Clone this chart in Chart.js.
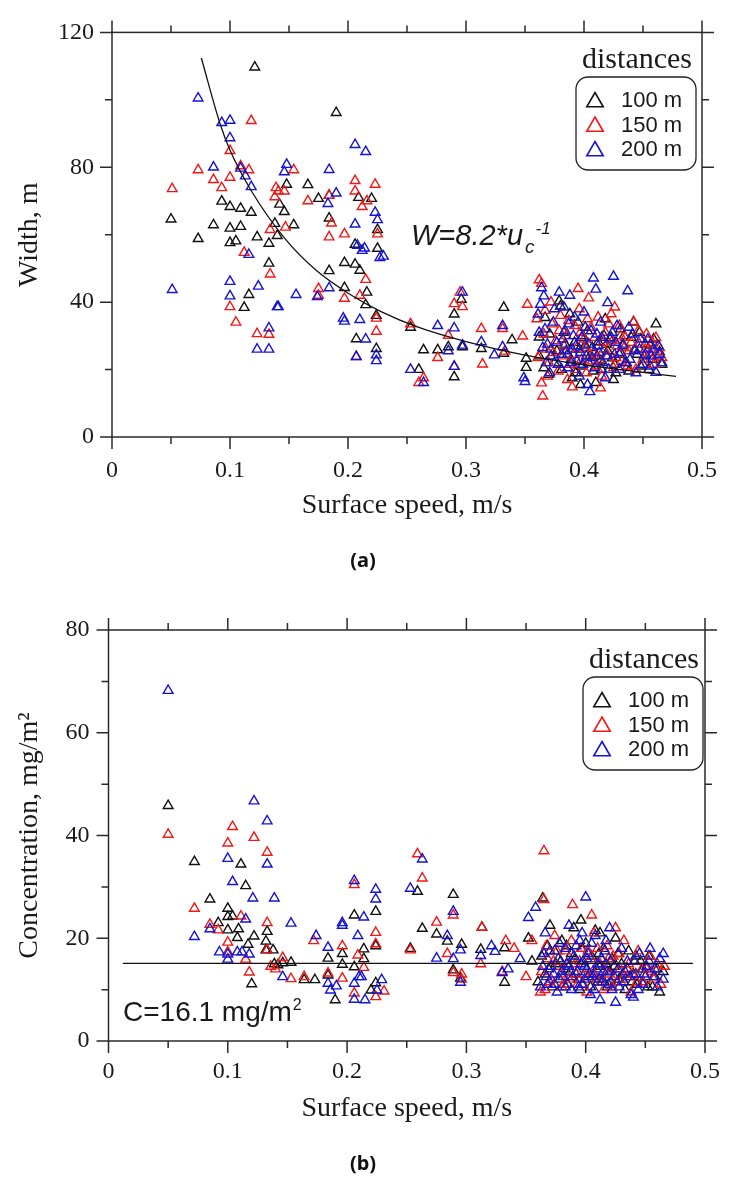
<!DOCTYPE html>
<html lang="en">
<head>
<meta charset="UTF-8" />
<title>Width and concentration vs surface speed</title>
<script src="https://cdn.jsdelivr.net/npm/chart.js"></script>
<style>
    * { margin: 0; padding: 0; box-sizing: border-box; }
    body { background: #fff; width: 736px; height: 1178px; position: relative; overflow: hidden; }
    canvas { position: absolute; left: 0; }
    #chartA { top: 0; }
    #chartB { top: 590px; }
    .panel {
        position: absolute; left: 313px; width: 100px; text-align: center;
        font: bold 20px 'Noto Sans', 'Liberation Sans', sans-serif; color: #111;
    }
</style>
</head>
<body>

<canvas id="chartA" width="736" height="590"></canvas>
<canvas id="chartB" width="736" height="588"></canvas>
<div class="panel" style="top:546px">(a)</div>
<div class="panel" style="top:1149px">(b)</div>

<script>
// ---- data -------------------------------------------------------------
const distances = ['100 m', '150 m', '200 m'];
const xTickLabels = ['0', '0.1', '0.2', '0.3', '0.4', '0.5'];
const xTickValues = [0, 0.1, 0.2, 0.3, 0.4, 0.5];
const yTicksA = [0, 40, 80, 120];
const yTicksB = [0, 20, 40, 60, 80];

// (a) width, m  vs surface speed, m/s
const widthD100 = [
    [0.050,64.6],[0.073,58.8],[0.086,62.9],[0.093,69.9],[0.100,68.3],[0.109,67.8],[0.118,66.6],[0.100,61.9],
    [0.109,62.4],[0.100,57.6],[0.105,58.1],[0.123,59.3],[0.133,57.4],[0.138,63.3],[0.140,59.7],[0.142,69.0],
    [0.146,66.8],[0.148,74.9],[0.154,62.9],[0.166,74.8],[0.175,70.7],[0.184,71.6],[0.184,64.9],[0.209,71.0],
    [0.220,70.7],[0.206,57.1],[0.225,55.9],[0.225,61.5],[0.133,51.5],[0.184,49.3],[0.197,51.7],[0.206,51.2],
    [0.210,49.4],[0.197,44.3],[0.216,42.9],[0.116,42.2],[0.112,38.4],[0.215,39.2],[0.224,36.0],[0.121,109.7],
    [0.190,96.2],
    [0.207,29.1],[0.224,26.2],[0.253,32.5],[0.264,25.8],[0.276,25.8],[0.285,26.7],[0.260,20.0],[0.290,36.4],
    [0.296,40.8],[0.297,26.7],[0.290,17.8],[0.332,38.4],[0.313,26.2],[0.332,24.8],
    [0.339,28.8],[0.351,23.3],[0.351,20.6],[0.362,29.6],[0.367,35.4],[0.379,40.3],[0.380,38.8],[0.372,26.0],
    [0.375,22.0],[0.383,31.0],[0.386,24.5],[0.390,17.5],[0.392,28.0],[0.395,34.0],[0.398,21.0],[0.401,27.2],
    [0.403,31.5],[0.405,24.0],[0.408,19.5],[0.410,16.1],[0.412,28.2],[0.414,22.5],[0.417,30.0],[0.420,25.5],
    [0.424,23.4],[0.427,19.0],[0.431,32.0],[0.433,27.0],[0.436,22.0],[0.440,29.5],[0.442,34.0],[0.445,24.5],
    [0.448,21.0],[0.452,27.5],[0.456,27.2],[0.458,23.0],[0.461,33.5],[0.464,25.2],[0.466,21.5],[0.370,18.5],
    [0.388,36.5],[0.418,35.0],[0.397,15.5],[0.425,17.0],
    [0.362,24.0],[0.366,20.5],[0.371,30.5],[0.377,25.5],[0.381,20.0],[0.384,27.5],[0.389,23.0],[0.393,19.0],
    [0.396,26.0],[0.399,30.0],[0.404,22.0],[0.407,26.5],[0.411,24.0],[0.415,20.0],[0.419,27.5],[0.423,29.5],
    [0.426,21.5],[0.430,24.5],[0.434,30.0],[0.438,19.5],[0.443,26.0],[0.447,31.0],[0.451,24.0],[0.455,20.0],
    [0.459,29.0]
];
const widthD150 = [
    [0.051,73.6],[0.073,79.2],[0.086,76.3],[0.093,73.9],[0.100,77.0],[0.100,84.9],[0.118,93.8],[0.109,80.4],
    [0.116,79.2],[0.139,73.9],[0.141,72.9],[0.146,72.9],[0.138,71.2],[0.154,79.2],[0.166,70.0],[0.184,71.6],
    [0.206,76.0],[0.206,72.9],[0.223,74.9],[0.212,68.3],[0.216,70.0],[0.186,63.4],[0.184,59.3],[0.197,60.2],
    [0.134,61.5],[0.147,62.2],[0.225,60.2],[0.112,54.7],[0.134,48.3],[0.215,46.7],[0.197,41.1],[0.210,42.0],
    [0.100,38.6],[0.105,34.0],[0.123,30.6],[0.133,30.4],
    [0.175,44.0],[0.175,42.0],[0.224,35.2],[0.224,31.3],[0.207,23.8],[0.253,33.5],[0.264,17.5],[0.260,16.1],
    [0.276,23.5],[0.285,30.1],[0.290,39.5],[0.295,42.9],[0.297,38.6],[0.290,20.9],[0.313,32.1],[0.314,21.6],
    [0.331,32.1],[0.333,25.4],
    [0.348,29.9],[0.352,39.3],[0.362,46.6],[0.364,45.5],[0.364,16.0],[0.365,12.1],[0.360,35.0],[0.366,30.5],
    [0.368,26.0],[0.370,22.0],[0.373,33.5],[0.376,28.5],[0.378,19.5],[0.380,36.0],[0.382,24.0],[0.385,30.0],
    [0.388,21.5],[0.390,14.8],[0.392,33.0],[0.394,26.5],[0.396,38.0],[0.398,23.0],[0.400,29.0],[0.402,19.0],
    [0.404,41.2],[0.406,32.5],[0.408,25.0],[0.410,21.0],[0.412,35.5],[0.415,18.0],[0.416,28.0],[0.418,31.0],
    [0.420,24.0],[0.423,36.5],[0.425,20.5],[0.428,27.0],[0.430,33.0],[0.432,22.5],[0.435,29.5],[0.438,25.5],
    [0.442,34.2],[0.444,20.0],[0.447,27.5],[0.450,23.0],[0.453,30.5],[0.456,25.0],[0.459,21.5],[0.461,29.4],
    [0.464,26.5],[0.466,23.5],[0.386,17.0],[0.414,14.5],[0.395,44.0],[0.372,40.0],[0.426,38.5],
    [0.361,23.5],[0.367,37.5],[0.369,18.0],[0.374,25.0],[0.379,31.5],[0.383,27.0],[0.387,34.5],[0.391,24.5],
    [0.393,20.0],[0.397,31.0],[0.401,26.5],[0.403,35.0],[0.407,22.5],[0.409,29.5],[0.413,23.0],[0.417,26.0],
    [0.421,33.5],[0.424,28.5],[0.427,23.5],[0.431,30.0],[0.434,26.5],[0.437,21.0],[0.440,28.0],[0.446,31.5],
    [0.452,26.0],[0.458,28.0],[0.462,24.0]
];
const widthD200 = [
    [0.073,100.5],[0.093,93.2],[0.100,93.9],[0.100,88.7],[0.086,80.0],[0.109,79.7],[0.113,77.4],[0.118,74.2],
    [0.148,80.8],[0.146,78.6],[0.184,79.3],[0.206,86.7],[0.215,84.6],[0.190,72.3],[0.183,69.2],[0.223,66.6],
    [0.206,63.1],[0.212,55.3],[0.214,56.0],[0.227,53.2],[0.225,64.4],[0.116,54.1],[0.051,43.7],[0.100,46.1],
    [0.100,41.8],[0.124,44.7],[0.141,38.6],[0.156,42.2],[0.174,41.6],[0.184,44.2],[0.133,32.3],[0.123,26.0],
    [0.133,26.0],[0.197,34.3],[0.210,34.8],
    [0.196,35.2],[0.215,29.0],[0.207,23.8],[0.224,24.3],[0.224,22.6],[0.253,20.0],[0.264,16.1],[0.276,33.0],
    [0.285,25.5],[0.290,32.3],[0.290,20.9],[0.297,42.9],[0.297,27.2],[0.313,28.2],[0.324,24.3],[0.331,33.0],
    [0.331,26.7],[0.208,56.8],[0.230,53.6],[0.140,38.6],
    [0.349,17.5],[0.350,16.4],[0.364,44.2],[0.366,41.8],[0.363,39.3],[0.361,36.4],[0.362,31.0],[0.365,26.5],
    [0.368,22.0],[0.371,19.0],[0.374,34.0],[0.377,28.0],[0.379,42.9],[0.381,24.5],[0.384,31.5],[0.386,20.5],
    [0.388,42.0],[0.390,26.0],[0.392,35.5],[0.394,22.5],[0.396,18.0],[0.398,29.5],[0.400,37.0],[0.402,24.0],
    [0.405,13.4],[0.406,31.5],[0.408,47.1],[0.409,20.5],[0.410,43.8],[0.412,27.0],[0.414,34.0],[0.416,22.0],
    [0.418,17.5],[0.420,39.8],[0.422,29.0],[0.425,47.6],[0.426,24.5],[0.428,33.0],[0.430,20.0],[0.433,27.5],
    [0.437,43.3],[0.439,23.0],[0.441,30.5],[0.444,19.0],[0.447,26.0],[0.450,21.5],[0.454,29.0],[0.457,24.0],
    [0.461,19.1],[0.463,27.0],[0.466,22.0],[0.403,15.5],[0.383,38.5],
    [0.367,32.0],[0.369,27.5],[0.372,24.0],[0.375,38.0],[0.378,21.5],[0.382,29.0],[0.385,25.5],[0.387,33.5],
    [0.389,22.0],[0.391,30.0],[0.393,27.0],[0.397,25.0],[0.399,21.5],[0.401,32.5],[0.404,27.5],[0.407,23.5],
    [0.411,30.5],[0.413,25.0],[0.415,29.5],[0.419,24.0],[0.421,20.0],[0.424,31.0],[0.427,28.0],[0.431,25.0],
    [0.435,22.0],[0.438,32.5],[0.443,25.5],[0.448,29.0],[0.452,24.5],[0.456,21.0],[0.459,26.0],[0.464,24.5]
];
// fitted curve W = 8.2*u^-1
const fitSpeed = [0.0757, 0.0915, 0.1003, 0.1188, 0.1462, 0.1735, 0.2008, 0.228, 0.26, 0.30, 0.35, 0.40, 0.44, 0.478];
const fitWidth = [112.4, 93.0, 84.8, 72.6, 59.0, 49.3, 42.5, 37.2, 32.5, 28.3, 24.3, 21.4, 19.6, 18.0];

// (b) concentration, mg/m2  vs surface speed, m/s
const concD100 = [
    [0.050,45.8],[0.072,34.9],[0.111,34.4],[0.115,30.2],[0.085,27.6],[0.100,25.8],[0.100,24.2],[0.104,24.3],
    [0.092,23.0],[0.100,21.6],[0.109,21.8],[0.108,20.1],[0.122,20.4],[0.117,18.8],[0.133,21.3],[0.132,19.4],
    [0.132,17.7],[0.138,17.7],[0.139,15.0],[0.142,14.8],[0.146,15.2],[0.153,15.3],[0.120,11.1],[0.164,11.9],
    [0.173,11.9],[0.184,16.1],[0.184,12.8],[0.190,8.0],[0.196,17.0],[0.196,14.9],[0.206,24.5],[0.206,14.4],
    [0.214,17.9],[0.214,16.0],[0.224,25.2],[0.224,18.5],[0.224,11.3],[0.220,9.9],[0.253,18.0],[0.259,29.1],
    [0.263,21.9],[0.275,20.8],[0.284,19.4],[0.289,28.5],[0.289,13.8],[0.296,18.8],[0.295,12.2],[0.313,22.1],
    [0.312,17.8],[0.332,11.4],[0.332,18.1],
    [0.352,20.0],[0.355,15.5],[0.360,11.5],[0.364,27.8],[0.366,13.0],[0.368,18.5],[0.370,22.5],[0.372,10.5],
    [0.375,15.0],[0.378,12.0],[0.380,19.5],[0.383,14.0],[0.385,11.0],[0.388,17.0],[0.390,22.0],[0.392,13.0],
    [0.395,10.0],[0.398,15.5],[0.400,19.0],[0.402,12.5],[0.405,16.5],[0.408,21.5],[0.410,11.5],[0.412,14.5],
    [0.415,18.0],[0.418,10.5],[0.420,13.5],[0.422,16.0],[0.425,20.0],[0.428,12.0],[0.430,15.0],[0.433,10.0],
    [0.436,17.5],[0.440,13.0],[0.443,11.0],[0.446,15.5],[0.450,12.5],[0.453,16.5],[0.456,10.5],[0.460,14.0],
    [0.462,9.5],[0.465,13.5],[0.396,23.5],[0.412,21.0],
    [0.363,16.5],[0.369,14.0],[0.374,17.5],[0.379,15.5],[0.384,18.5],[0.387,13.5],[0.391,16.0],[0.394,12.0],
    [0.397,18.0],[0.401,14.0],[0.404,10.5],[0.407,13.0],[0.411,17.0],[0.414,12.0],[0.417,15.0],[0.421,11.5],
    [0.424,14.5],[0.427,17.0],[0.431,13.0],[0.435,14.0],[0.439,11.5],[0.442,16.5],[0.448,14.0],[0.452,10.5],
    [0.458,12.5]
];
const concD150 = [
    [0.050,40.2],[0.104,41.7],[0.100,38.5],[0.122,39.6],[0.133,36.7],[0.072,25.8],[0.085,22.7],[0.092,21.6],
    [0.111,24.3],[0.133,23.0],[0.100,19.2],[0.100,17.3],[0.115,15.9],[0.118,13.4],[0.133,17.7],[0.136,14.5],
    [0.140,14.0],[0.146,16.2],[0.153,12.1],[0.164,12.5],[0.172,19.5],[0.184,13.2],[0.196,18.5],[0.196,12.2],
    [0.206,30.4],[0.209,16.7],[0.214,14.3],[0.224,21.1],[0.224,18.9],[0.206,9.3],[0.224,8.6],[0.231,9.7],
    [0.259,36.4],[0.263,31.7],[0.253,17.7],[0.275,23.1],[0.284,17.0],[0.289,24.5],[0.289,13.3],[0.296,13.0],
    [0.296,12.0],[0.312,15.0],[0.313,22.1],[0.330,13.5],[0.333,19.5],
    [0.340,18.0],[0.350,12.5],[0.355,19.5],[0.362,9.5],[0.365,37.0],[0.365,27.5],[0.366,10.0],[0.368,16.0],
    [0.371,12.0],[0.374,20.5],[0.377,14.5],[0.380,10.5],[0.383,17.5],[0.386,12.0],[0.389,26.5],[0.391,15.0],
    [0.393,11.0],[0.396,18.0],[0.399,13.0],[0.401,9.5],[0.404,16.0],[0.407,21.0],[0.409,12.0],[0.412,15.0],
    [0.415,10.0],[0.418,18.5],[0.420,13.0],[0.423,16.5],[0.426,11.5],[0.429,14.0],[0.432,19.5],[0.435,12.5],
    [0.438,9.5],[0.441,15.5],[0.444,17.5],[0.448,11.5],[0.451,14.0],[0.454,16.5],[0.457,12.0],[0.460,15.0],
    [0.463,11.0],[0.466,14.5],[0.405,24.5],[0.425,22.0],
    [0.363,13.5],[0.367,18.5],[0.370,11.5],[0.373,15.5],[0.376,17.5],[0.379,13.0],[0.382,11.0],[0.385,15.0],
    [0.388,19.5],[0.392,13.0],[0.395,15.5],[0.398,11.0],[0.402,17.5],[0.406,13.5],[0.410,18.0],[0.413,11.5],
    [0.416,14.0],[0.419,16.0],[0.422,10.5],[0.428,17.0],[0.431,12.0],[0.436,15.0],[0.439,13.0],[0.443,11.5],
    [0.447,14.0],[0.455,13.5]
];
const concD200 = [
    [0.050,68.2],[0.122,46.7],[0.133,42.8],[0.100,35.5],[0.133,34.4],[0.104,31.0],[0.121,27.8],[0.139,27.8],
    [0.115,23.7],[0.085,21.8],[0.072,20.3],[0.153,22.9],[0.093,17.3],[0.100,16.9],[0.100,15.9],[0.108,17.3],
    [0.112,17.3],[0.118,16.9],[0.146,12.5],[0.174,20.5],[0.184,18.2],[0.196,23.0],[0.196,22.5],[0.206,31.2],
    [0.209,20.5],[0.214,24.1],[0.224,29.5],[0.224,27.6],[0.184,11.2],[0.186,9.9],[0.191,10.7],[0.206,11.2],
    [0.210,12.5],[0.212,12.5],[0.206,8.1],[0.215,8.0],[0.225,9.9],[0.229,11.9],[0.253,29.7],[0.263,35.4],
    [0.275,16.1],[0.284,20.5],[0.289,25.2],[0.289,16.0],[0.295,17.7],[0.295,11.4],[0.312,16.6],[0.321,18.5],
    [0.324,17.4],[0.330,13.3],[0.335,14.0],
    [0.345,16.0],[0.352,24.0],[0.358,26.0],[0.362,10.5],[0.364,14.5],[0.366,21.0],[0.368,11.0],[0.370,17.5],
    [0.373,13.0],[0.376,9.5],[0.378,19.0],[0.381,12.5],[0.384,15.0],[0.386,22.5],[0.388,10.0],[0.390,16.5],
    [0.393,13.5],[0.395,19.5],[0.397,11.0],[0.399,14.5],[0.400,28.0],[0.402,17.0],[0.404,9.0],[0.406,12.5],
    [0.408,20.5],[0.410,15.0],[0.412,8.0],[0.414,11.5],[0.416,17.5],[0.418,13.5],[0.420,22.0],[0.422,10.0],
    [0.425,7.5],[0.427,14.0],[0.430,18.0],[0.432,11.5],[0.435,15.5],[0.438,9.0],[0.440,8.5],[0.442,13.0],
    [0.445,17.0],[0.448,11.0],[0.451,14.5],[0.454,18.0],[0.457,12.5],[0.460,10.5],[0.462,16.0],[0.465,17.0],
    [0.465,12.0],[0.383,18.0],[0.397,21.0],[0.417,19.5],
    [0.365,17.0],[0.367,12.5],[0.371,14.5],[0.374,11.0],[0.377,16.0],[0.380,13.5],[0.383,10.5],[0.386,14.5],
    [0.389,12.5],[0.392,18.5],[0.394,10.5],[0.396,15.0],[0.399,12.0],[0.401,16.0],[0.403,13.0],[0.405,19.0],
    [0.407,10.0],[0.409,14.0],[0.411,12.0],[0.413,16.0],[0.415,13.5],[0.419,11.0],[0.421,15.5],[0.424,12.5],
    [0.428,10.5],[0.433,13.5],[0.437,12.5],[0.441,15.5],[0.444,10.0],[0.449,13.0],[0.453,15.5],[0.458,14.0]
];
// mean level line
const meanSpeed = [0.012, 0.49];
const meanConc = [15.1, 15.1];

// ---- look ---------------------------------------------------------------
const colors = ['#111111', '#f01818', '#1414d2'];
const serif = "'Liberation Serif', 'Times New Roman', serif";
const sans = "'Liberation Sans', Arial, sans-serif";
const ink = '#1a1a1a';

const toXY = arr => arr.map(p => ({ x: p[0], y: p[1] }));

function pointSet(label, pts, i) {
    return {
        label: label,
        data: toXY(pts),
        showLine: false,
        pointStyle: 'triangle',
        pointRadius: 5.6,
        pointBorderWidth: 1.4,
        pointBorderColor: colors[i],
        pointBackgroundColor: 'rgba(0,0,0,0)',
        inLegend: true,
        order: 3 - i
    };
}

function lineSet(xs, ys) {
    return {
        label: 'fit',
        data: xs.map((v, i) => ({ x: v, y: ys[i] })),
        showLine: true,
        borderColor: '#111',
        borderWidth: 1.3,
        pointRadius: 0,
        cubicInterpolationMode: 'monotone',
        order: 0
    };
}

// box round the plot with outer ticks on all 4 sides
const frame = {
    id: 'frame',
    afterDatasetsDraw(chart, args, o) {
        const { ctx, chartArea: a } = chart;
        const xs = chart.scales.x, ys = chart.scales.y;
        ctx.save();
        ctx.strokeStyle = '#2a2a2a';
        ctx.lineWidth = 1.5;
        ctx.strokeRect(a.left, a.top, a.right - a.left, a.bottom - a.top);
        ctx.beginPath();
        const nx = Math.round((xs.max - xs.min) / o.xMinor);
        for (let i = 0; i <= nx; i++) {
            const px = xs.getPixelForValue(xs.min + i * o.xMinor);
            const len = i % o.xEvery === 0 ? o.major : o.minor;
            ctx.moveTo(px, a.bottom); ctx.lineTo(px, a.bottom + len);
            ctx.moveTo(px, a.top); ctx.lineTo(px, a.top - len);
        }
        const ny = Math.round((ys.max - ys.min) / o.yMinor);
        for (let i = 0; i <= ny; i++) {
            const py = ys.getPixelForValue(ys.min + i * o.yMinor);
            const len = i % o.yEvery === 0 ? o.major : o.minor;
            ctx.moveTo(a.left, py); ctx.lineTo(a.left - len, py);
            ctx.moveTo(a.right, py); ctx.lineTo(a.right + len, py);
        }
        ctx.stroke();
        ctx.restore();
    }
};

function triangle(ctx, x, y, r) {
    ctx.beginPath();
    ctx.moveTo(x, y - r);
    ctx.lineTo(x + r * 0.866, y + r * 0.5);
    ctx.lineTo(x - r * 0.866, y + r * 0.5);
    ctx.closePath();
    ctx.stroke();
}

// "distances" legend in a rounded box + the formula text
const notes = {
    id: 'notes',
    afterDraw(chart, args, o) {
        const { ctx } = chart;
        ctx.save();
        ctx.fillStyle = ink;
        ctx.font = '30px ' + serif;
        ctx.textAlign = 'right';
        ctx.textBaseline = 'alphabetic';
        ctx.fillText('distances', o.box.x + o.box.w - 4, o.titleY);

        ctx.strokeStyle = '#222';
        ctx.lineWidth = 1.3;
        ctx.beginPath();
        ctx.roundRect(o.box.x, o.box.y, o.box.w, o.box.h, 12);
        ctx.stroke();

        ctx.font = '22px ' + sans;
        ctx.textAlign = 'left';
        ctx.textBaseline = 'middle';
        chart.data.datasets.filter(d => d.inLegend).forEach((d, i) => {
            const cy = o.box.y + 23 + i * 24.5;
            ctx.strokeStyle = d.pointBorderColor;
            ctx.lineWidth = 1.6;
            triangle(ctx, o.box.x + 19, cy + 2, 9.5);
            ctx.fillStyle = ink;
            ctx.fillText(d.label, o.box.x + 45, cy + 1);
        });

        // formula / mean value text, pieces laid out one after another
        ctx.fillStyle = ink;
        ctx.textBaseline = 'alphabetic';
        let x = o.textX;
        o.text.forEach(t => {
            ctx.font = t.font;
            ctx.fillText(t.s, x + (t.dx || 0), o.textY + (t.dy || 0));
            x += (t.dx || 0) + ctx.measureText(t.s).width;
        });
        ctx.restore();
    }
};

function scalesFor(yMax, yTicks, xTitlePad, xTickPad, yTitle, yTickPad, xHeight, yWidth) {
    return {
        x: {
            type: 'linear', min: 0, max: 0.5,
            afterBuildTicks: s => { s.ticks = xTickValues.map(v => ({ value: v })); },
            afterFit: s => { s.height = xHeight; },
            grid: { display: false, drawTicks: false },
            border: { display: false },
            ticks: {
                padding: xTickPad, color: ink, font: { family: serif, size: 24 },
                callback: (v, i) => xTickLabels[i]
            },
            title: {
                display: true, text: 'Surface speed, m/s', color: ink,
                font: { family: serif, size: 28 }, padding: { bottom: xTitlePad }
            }
        },
        y: {
            type: 'linear', min: 0, max: yMax,
            afterBuildTicks: s => { s.ticks = yTicks.map(v => ({ value: v })); },
            afterFit: s => { s.width = yWidth; },
            grid: { display: false, drawTicks: false },
            border: { display: false },
            ticks: { padding: yTickPad, color: ink, font: { family: serif, size: 24 } },
            title: {
                display: true, text: yTitle, color: ink,
                font: { family: serif, size: 28 }, padding: { top: 13 }
            }
        }
    };
}

// ---- chart (a) ----------------------------------------------------------
new Chart(document.getElementById('chartA'), {
    type: 'scatter',
    data: {
        datasets: [
            pointSet(distances[0], widthD100, 0),
            pointSet(distances[1], widthD150, 1),
            pointSet(distances[2], widthD200, 2),
            lineSet(fitSpeed, fitWidth)
        ]
    },
    options: {
        responsive: false,
        animation: false,
        events: [],
        layout: { padding: { top: 24, right: 15, left: 0, bottom: 0 } },
        scales: scalesFor(120, yTicksA, 68, 19, 'Width, m', 18, 153, 112),
        plugins: {
            legend: { display: false },
            tooltip: { enabled: false },
            frame: { xMinor: 0.05, xEvery: 2, yMinor: 20, yEvery: 2, major: 12, minor: 7 },
            notes: {
                box: { x: 576, y: 77, w: 120, h: 93 },
                titleY: 68,
                textX: 411, textY: 245,
                text: [
                    { s: 'W=8.2*u', font: 'italic 29px ' + sans },
                    { s: 'c', dx: 2, dy: 8, font: 'italic 19px ' + sans },
                    { s: '-1', dx: 1, dy: -11, font: 'italic 17px ' + sans }
                ]
            }
        }
    },
    plugins: [frame, notes]
});

// ---- chart (b) ----------------------------------------------------------
new Chart(document.getElementById('chartB'), {
    type: 'scatter',
    data: {
        datasets: [
            pointSet(distances[0], concD100, 0),
            pointSet(distances[1], concD150, 1),
            pointSet(distances[2], concD200, 2),
            lineSet(meanSpeed, meanConc)
        ]
    },
    options: {
        responsive: false,
        animation: false,
        events: [],
        layout: { padding: { top: 40, right: 17.5, left: 0, bottom: 0 } },
        scales: scalesFor(80, yTicksB, 53, 16, 'Concentration, mg/m²', 19, 137, 108.5),
        plugins: {
            legend: { display: false },
            tooltip: { enabled: false },
            frame: { xMinor: 0.05, xEvery: 2, yMinor: 10, yEvery: 2, major: 12, minor: 7 },
            notes: {
                box: { x: 583, y: 87, w: 120, h: 93 },
                titleY: 78,
                textX: 123, textY: 431,
                text: [
                    { s: 'C=16.1 mg/m', font: '28px ' + sans },
                    { s: '2', dx: 1, dy: -11, font: '16px ' + sans }
                ]
            }
        }
    },
    plugins: [frame, notes]
});
</script>
</body>
</html>
